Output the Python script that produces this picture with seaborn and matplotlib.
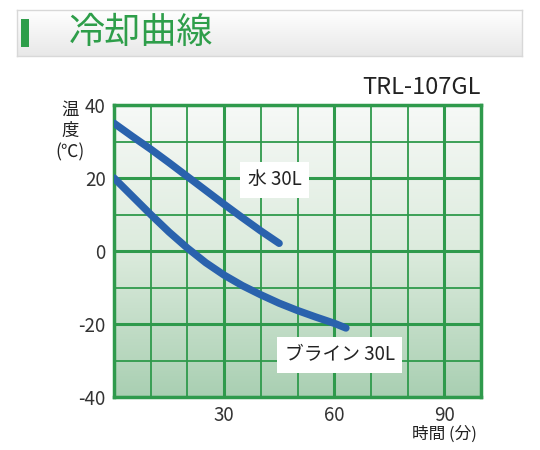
import numpy as np
import pandas as pd
import matplotlib
matplotlib.use("Agg")
import matplotlib.pyplot as plt
import seaborn as sns
from matplotlib.colors import LinearSegmentedColormap

sns.set_theme(style="white")
plt.rcParams['font.family'] = ['Noto Sans CJK JP', 'DejaVu Sans']
plt.rcParams['axes.unicode_minus'] = False

# Data
water_time = [0, 5, 10, 15, 20, 25, 30, 35, 40, 45]
water_temp = [35, 31.4, 27.9, 24.2, 20.4, 16.6, 12.8, 9.1, 5.5, 2.1]
brine_time = [0, 5, 10, 15, 20, 25, 30, 35, 40, 45, 50, 55, 60, 63.2]
brine_temp = [20, 15, 10, 5.2, 0.8, -3.2, -6.6, -9.5, -12, -14.3, -16.3, -18.1, -19.8, -21.1]
x_ticks = [30, 60, 90]
y_ticks = [-40, -20, 0, 20, 40]

df = pd.concat([
    pd.DataFrame({"time": water_time, "temp": water_temp, "series": "水 30L"}),
    pd.DataFrame({"time": brine_time, "temp": brine_temp, "series": "ブライン 30L"}),
])

W, H = 540, 450
fig = plt.figure(figsize=(W / 100, H / 100), dpi=100)
fig.patch.set_facecolor("white")

# Title banner
bax = fig.add_axes([17 / W, 1 - 56 / H, 505 / W, 46 / H])
bgrad = np.linspace(0, 1, 100).reshape(-1, 1)
bcmap = LinearSegmentedColormap.from_list("b", ["#ffffff", "#e8e8e8"])
bax.imshow(bgrad, aspect="auto", cmap=bcmap, extent=[0, 1, 0, 1], origin="upper")
bax.set_xlim(0, 1)
bax.set_ylim(0, 1)
bax.set_xticks([])
bax.set_yticks([])
for s in bax.spines.values():
    s.set_color("#d8d8d8")
    s.set_linewidth(1)
bax.add_patch(plt.Rectangle((4 / 505, 0.2), 8 / 505, 0.6, color="#2e9e4a", lw=0))
bax.text(52 / 505, 0.5, "冷却曲線", color="#2e9e4a", fontsize=26, va="center", ha="left")

# Main axes
ax = fig.add_axes([114 / W, 1 - 397 / H, 367 / W, 292 / H])
grad = np.linspace(0, 1, 256).reshape(-1, 1)
cmap = LinearSegmentedColormap.from_list("g", ["#f7f9f7", "#dcebdd", "#a9cfb2"])
ax.imshow(grad, aspect="auto", cmap=cmap, extent=[0, 100, -40, 40], origin="upper", zorder=0)

sns.lineplot(data=df, x="time", y="temp", hue="series", palette=["#2a62ad", "#2a62ad"],
             ax=ax, legend=False, linewidth=5.3, solid_capstyle="round", solid_joinstyle="round",
             sort=False, estimator=None, zorder=3)

ax.set_xlim(0, 100)
ax.set_ylim(-40, 40)
ax.set_xticks(x_ticks)
ax.set_yticks(y_ticks)
ax.set_xticks(range(0, 101, 10), minor=True)
ax.set_yticks(range(-40, 41, 10), minor=True)
ax.grid(which="major", color="#2f9a4c", linewidth=2.2, zorder=1)
ax.grid(which="minor", color="#2f9a4c", linewidth=1.3, zorder=1)
ax.set_axisbelow(True)
for s in ax.spines.values():
    s.set_color("#2f9a4c")
    s.set_linewidth(2.5)
ax.tick_params(which="both", length=0, labelsize=13.5, labelcolor="#333333", pad=6)
ax.set_xlabel("")
ax.set_ylabel("")

# Labels
box = dict(boxstyle="square,pad=0.4", fc="white", ec="none")
ax.text(36.5, 19.5, "水 30L", fontsize=13.5, color="#222222", ha="left", va="center", bbox=box, zorder=4)
ax.text(46.5, -28.5, "ブライン 30L", fontsize=13.5, color="#222222", ha="left", va="center", bbox=box, zorder=4)

fig.text(481 / W, 1 - 88 / H, "TRL-107GL", fontsize=17, color="#222222", ha="right", va="center")
fig.text(70 / W, 1 - 131 / H, "温\n度\n(℃)", fontsize=12.5, color="#222222", ha="center", va="center",
         linespacing=1.25)
fig.text(444 / W, 1 - 434 / H, "時間 (分)", fontsize=12, color="#222222", ha="center", va="center")

fig.savefig("out.png", dpi=100, facecolor="white")
